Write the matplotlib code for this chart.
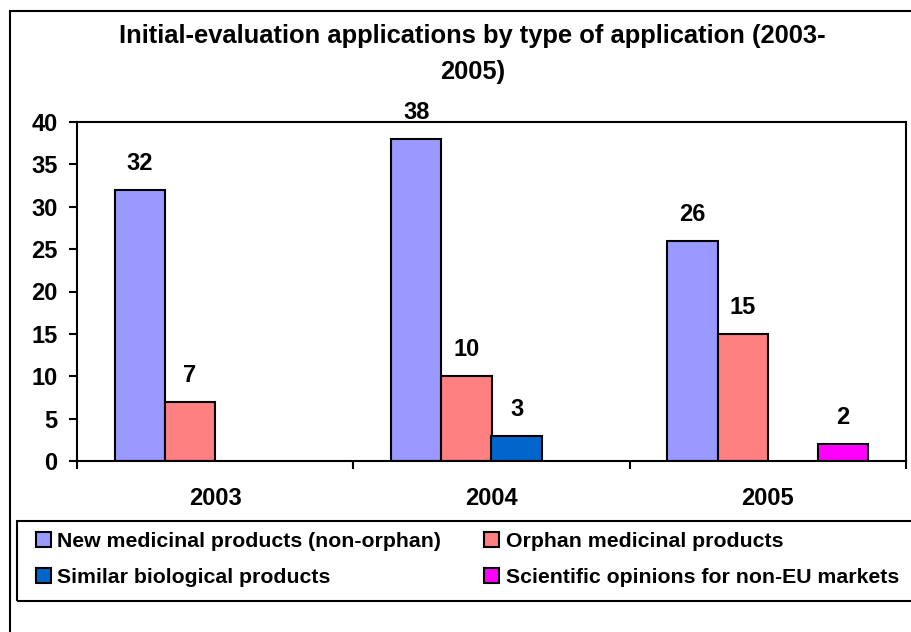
import matplotlib
matplotlib.use("Agg")
import matplotlib.pyplot as plt
import numpy as np
from matplotlib.patches import Rectangle, Patch

plt.rcParams['font.family'] = ['Liberation Sans', 'DejaVu Sans']
plt.rcParams['font.weight'] = 'bold'

years = ["2003", "2004", "2005"]
series_names = ["New medicinal products (non-orphan)", "Orphan medicinal products",
                "Similar biological products", "Scientific opinions for non-EU markets"]
new_products = [32, 38, 26]
orphan_products = [7, 10, 15]
similar_bio = [0, 3, 0]
sci_opinions = [0, 0, 2]
colors = ["#9999FF", "#FF8080", "#0066CC", "#FF00FF"]
title = "Initial-evaluation applications by type of application (2003-\n2005)"

W, H = 911, 632
fig = plt.figure(figsize=(W / 100, H / 100), dpi=100)

# outer chart border
fig.patches.append(Rectangle((10 / W, -0.1), 1.2, (H - 11) / H + 0.1, transform=fig.transFigure,
                             fill=False, edgecolor="black", linewidth=1.5))

ax = fig.add_axes([77 / W, (H - 461) / H, (906 - 77) / W, (461 - 122) / H])
x = np.arange(len(years))
bw = 1 / 5.5
all_series = [new_products, orphan_products, similar_bio, sci_opinions]
for i, vals in enumerate(all_series):
    pos = x + (i - 1.5) * bw
    for p, v in zip(pos, vals):
        if v > 0:
            ax.bar(p, v, width=bw, color=colors[i], edgecolor="black", linewidth=1.5)
            ax.annotate(str(v), (p, v), xytext=(0, 19), textcoords="offset points",
                        ha="center", va="center", fontsize=17, fontweight="bold",
                        annotation_clip=False)

ax.set_xlim(-0.5, 2.5)
ax.set_ylim(0, 40)
ax.set_yticks(range(0, 41, 5))
ax.tick_params(axis="y", direction="out", length=6, width=1.5, pad=8, labelsize=17)
ax.set_xticks([-0.5, 0.5, 1.5, 2.5])
ax.set_xticklabels([])
ax.tick_params(axis="x", which="major", direction="out", length=6, width=1.5)
ax.set_xticks(x, minor=True)
ax.set_xticklabels(years, minor=True)
ax.tick_params(axis="x", which="minor", length=0, pad=19, labelsize=17)
for s in ax.spines.values():
    s.set_linewidth(1.5)
for lbl in ax.get_xticklabels(minor=True) + ax.get_yticklabels():
    lbl.set_fontweight("bold")

fig.text(472.5 / W, (H - 54) / H, title, ha="center", va="center", fontsize=18.4,
         fontweight="bold", linespacing=1.65)

# legend
handles = [Patch(facecolor=colors[i], edgecolor="black", linewidth=1.5) for i in range(4)]
order = [0, 2, 1, 3]
fig.patches.append(Rectangle((17 / W, (H - 601) / H), 1.2, 80 / H, transform=fig.transFigure,
                             fill=False, edgecolor="black", linewidth=1.5))
leg = fig.legend([handles[i] for i in order], [series_names[i] for i in order], ncol=2,
                 loc="center left", bbox_to_anchor=(17 / W, (H - 559.5) / H),
                 frameon=False, handlelength=0.7, handleheight=0.7,
                 handletextpad=0.3, columnspacing=2.03, labelspacing=0.83,
                 prop={"weight": "bold", "size": 15.3})

fig.savefig("out.png", dpi=100)
